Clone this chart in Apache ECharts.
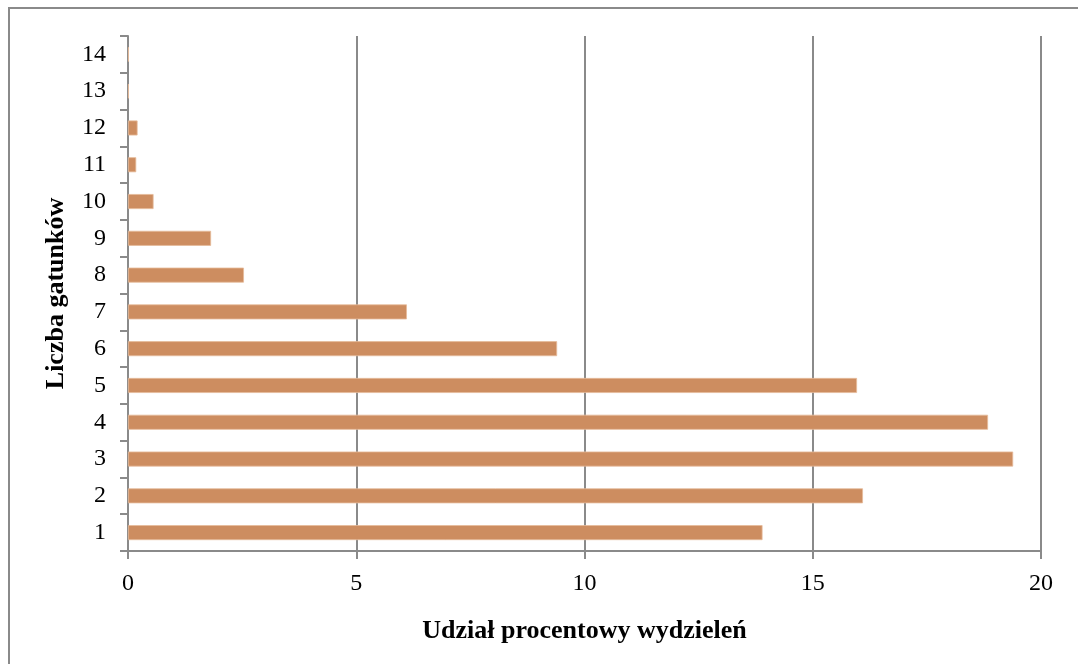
<!DOCTYPE html>
<html>
<head>
<meta charset="utf-8">
<script src="https://cdn.jsdelivr.net/npm/echarts@6/dist/echarts.min.js"></script>
<style>
html,body{margin:0;padding:0;background:#fff;overflow:hidden;}
#frame{position:absolute;left:8px;top:7px;width:2000px;height:2000px;border-top:2px solid #8a8a8a;border-left:2px solid #8a8a8a;box-sizing:border-box;}
#chart{position:absolute;left:0;top:0;width:1078px;height:664px;}
</style>
</head>
<body>
<div id="frame"></div>
<div id="chart"></div>
<script>
const categories = ['1','2','3','4','5','6','7','8','9','10','11','12','13','14'];
const values = [13.9, 16.1, 19.39, 18.84, 15.97, 9.4, 6.11, 2.54, 1.82, 0.56, 0.18, 0.21, 0.02, 0.02];
const xTicks = [0, 5, 10, 15, 20];
const xTitle = 'Udział procentowy wydzieleń';
const yTitle = 'Liczba gatunków';

const chart = echarts.init(document.getElementById('chart'), null, {renderer:'canvas'});
const font = '"Liberation Serif", "DejaVu Serif", serif';
chart.setOption({
  animation: false,
  backgroundColor: 'transparent',
  grid: {left: 128, right: 37, top: 36, bottom: 113, containLabel: false},
  xAxis: {
    type: 'value', min: xTicks[0], max: xTicks[xTicks.length-1], interval: 5,
    name: xTitle, nameLocation: 'middle', nameGap: 67,
    nameTextStyle: {fontFamily: font, fontSize: 26, fontWeight: 'bold', color: '#000'},
    axisLine: {show: true, lineStyle: {color: '#8a8a8a', width: 2}},
    axisTick: {show: true, length: 8, lineStyle: {color: '#8a8a8a', width: 2}},
    axisLabel: {fontFamily: font, fontSize: 24, color: '#000', margin: 21},
    splitLine: {show: true, lineStyle: {color: '#8a8a8a', width: 2}}
  },
  yAxis: {
    type: 'category', data: categories, boundaryGap: true,
    name: yTitle, nameLocation: 'middle', nameGap: 59, nameRotate: 90,
    nameTextStyle: {fontFamily: font, fontSize: 26, fontWeight: 'bold', color: '#000'},
    axisLine: {show: true, lineStyle: {color: '#8a8a8a', width: 2}},
    axisTick: {show: true, length: 8, alignWithLabel: false, lineStyle: {color: '#8a8a8a', width: 2}},
    axisLabel: {fontFamily: font, fontSize: 24, color: '#000', margin: 22},
    splitLine: {show: false}
  },
  series: [{
    type: 'bar', data: values, barWidth: 15,
    itemStyle: {color: '#CD8D60', borderColor: '#E6BB9B', borderWidth: 0.8}
  }]
});
</script>
</body>
</html>
